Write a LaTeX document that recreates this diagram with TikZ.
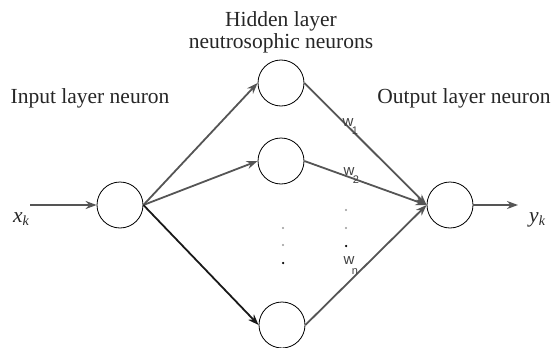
\documentclass[tikz,border=0pt]{standalone}
\usepackage{fontspec}
\setmainfont{Liberation Serif}
\newfontfamily\wfont{Liberation Sans}
\usetikzlibrary{arrows.meta}
\definecolor{lg}{HTML}{555555}
\begin{document}
\begin{tikzpicture}[x=1pt,y=-1pt,
  neuron/.style={circle,draw=black,line width=0.8pt,minimum size=46pt,inner sep=0pt},
  conn/.style={draw=lg,line width=1.8pt,-{Stealth[length=11pt,width=8pt]}},
  lbl/.style={font=\fontsize{21.5}{22}\selectfont,text=black!85,anchor=base,inner sep=0pt},
  wlbl/.style={font=\wfont\fontsize{15}{15}\selectfont,text=black!75,inner sep=0pt},
  wsub/.style={font=\wfont\fontsize{11}{11}\selectfont,text=black!75,inner sep=0pt},
  dotg/.style={circle,fill=lg!60,inner sep=0pt,minimum size=2.2pt},
  dotb/.style={circle,fill=black,inner sep=0pt,minimum size=2.5pt}]
\useasboundingbox (0,0) rectangle (552,348);
\node[neuron] (in) at (120,205) {};
\node[neuron] (h1) at (281,83) {};
\node[neuron] (h2) at (281,161) {};
\node[neuron] (hn) at (282,325) {};
\node[neuron] (out) at (450,205) {};
\coordinate (xs) at (30,205);
\coordinate (ye) at (518,205);
\draw[conn] (xs) -- (in.west);
\draw[conn] (out.east) -- (ye);
\draw[conn] (in.east) -- (h1.west);
\draw[conn] (in.east) -- (h2.west);
\draw[conn,draw=black!90] (in.east) -- (hn.west);
\draw[conn] (h1.east) -- (out.west);
\draw[conn] (h2.east) -- (out.west);
\draw[conn] (hn.east) -- (out.west);
\node[lbl] (t1) at (90,103) {Input layer neuron};
\node[lbl] (t2) at (464,103) {Output layer neuron};
\node[lbl] (t3) at (281,26) {Hidden layer};
\node[lbl] (t4) at (281,48) {neutrosophic neurons};
\node[lbl,anchor=base west] (xk) at (13,222) {\textit{x}\raisebox{-3pt}{\fontsize{14}{14}\selectfont\textit{k}}};
\node[lbl,anchor=base west] (yk) at (529,222) {\textit{y}\raisebox{-3pt}{\fontsize{14}{14}\selectfont\textit{k}}};
\node[wlbl] (w1) at (348,123) {w};
\node[wsub] (s1) at (355,131) {1};
\node[wlbl] (w2) at (349,172) {w};
\node[wsub] (s2) at (356,180) {2};
\node[wlbl] (wn) at (349,261) {w};
\node[wsub] (sn) at (355,272) {n};
\node[dotg] (d1) at (283,228) {};
\node[dotg] (d2) at (283,245) {};
\node[dotb] (d3) at (283,263) {};
\node[dotg] (e1) at (346,210) {};
\node[dotg] (e2) at (346,228) {};
\node[dotb] (e3) at (346,246) {};
\end{tikzpicture}
\end{document}
